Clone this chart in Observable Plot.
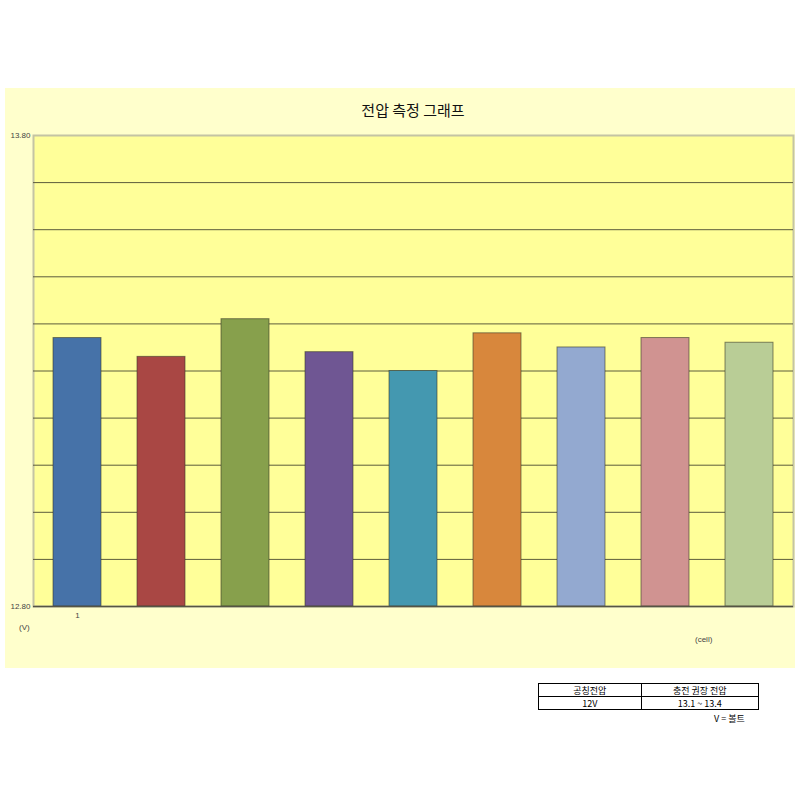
<!DOCTYPE html>
<html>
<head>
<meta charset="utf-8">
<script src="https://cdn.jsdelivr.net/npm/d3@7"></script>
<script src="https://cdn.jsdelivr.net/npm/@observablehq/plot@0.6"></script>
<style>
  html, body { margin: 0; padding: 0; background: #ffffff; }
  #wrap { position: relative; width: 800px; height: 800px; font-family: "Noto Sans CJK KR", "Noto Sans", sans-serif; }
  #panel { position: absolute; left: 5px; top: 88px; width: 790px; height: 580px; background: #FFFFCC; }
  #chart { position: absolute; left: 0; top: 0; }
  #title { position: absolute; left: 0; width: 826px; top: 99px; text-align: center; font-size: 15px; color: #111; }
  .lbl { position: absolute; font-family: "Liberation Sans", Arial, sans-serif; font-size: 8px; color: #444; }
  table#info { position: absolute; left: 538px; top: 683px; width: 221px; border-collapse: collapse; font-family: "Noto Sans CJK KR", sans-serif; font-size: 9px; }
  table#info td { border: 1.5px solid #000; text-align: center; height: 12px; padding: 0; line-height: 11px; }
  #unit { position: absolute; left: 714px; top: 712px; font-family: "Noto Sans CJK KR", sans-serif; font-size: 9px; color: #000; }
</style>
</head>
<body>
<div id="wrap">
  <div id="panel"></div>
  <div id="chart"></div>
  <div id="title">전압 측정 그래프</div>
  <div class="lbl" style="left:19px; top:623px;">(V)</div>
  <div class="lbl" style="left:695px; top:635px;">(cell)</div>
  <table id="info"></table>
  <div id="unit"></div>
</div>
<script>
const cells = [1, 2, 3, 4, 5, 6, 7, 8, 9];
const voltages = [13.37, 13.33, 13.41, 13.34, 13.30, 13.38, 13.35, 13.37, 13.36];
const barColors = ["#4672A8", "#A94744", "#87A04C", "#6F5693", "#4498B0", "#D8873C", "#93A9D0", "#D09391", "#B9CD96"];
const gridValues = [12.9, 13.0, 13.1, 13.2, 13.3, 13.4, 13.5, 13.6, 13.7];
const yLabelTicks = [12.8, 13.8];
const xLabelTicks = [1];
const tableHeader = ["공칭전압", "충전 권장 전압"];
const tableRow = ["12V", "13.1 ~ 13.4"];
const unitNote = "V = 볼트";

const data = cells.map((c, i) => ({cell: c, v: voltages[i], color: barColors[i]}));

const plot = Plot.plot({
  width: 800,
  height: 800,
  marginTop: 135,
  marginBottom: 194,
  marginLeft: 33,
  marginRight: 7,
  style: { background: "transparent", fontFamily: "Liberation Sans, Arial, sans-serif", fontSize: "8px", color: "#444" },
  x: { type: "band", domain: cells, paddingInner: 0.43, paddingOuter: 0.215, align: 0.5 },
  y: { domain: [12.8, 13.8] },
  marks: [
    Plot.frame({ fill: "#FFFF99", stroke: "#c4c4a4", strokeWidth: 2 }),
    Plot.ruleY(gridValues, { stroke: "#5c5c3c", strokeWidth: 1 }),
    Plot.barY(data, { x: "cell", y1: 12.8, y2: "v", fill: "color", stroke: "#3a3a2a", strokeOpacity: 0.6, strokeWidth: 1 }),
    Plot.ruleY([12.8], { stroke: "#555544", strokeWidth: 1.5 }),
    Plot.axisY(yLabelTicks, { tickSize: 0, tickPadding: 3, tickFormat: d => d.toFixed(2), fill: "#444", fontSize: 8, label: null }),
    Plot.axisX(xLabelTicks, { tickSize: 0, tickPadding: 6, fill: "#444", fontSize: 8, label: null })
  ]
});
document.getElementById("chart").appendChild(plot);

const tbl = document.getElementById("info");
[tableHeader, tableRow].forEach(row => {
  const tr = document.createElement("tr");
  row.forEach((t, i) => {
    const td = document.createElement("td");
    td.textContent = t;
    td.style.width = i === 0 ? "103px" : "118px";
    tr.appendChild(td);
  });
  tbl.appendChild(tr);
});
document.getElementById("unit").textContent = unitNote;
</script>
</body>
</html>
